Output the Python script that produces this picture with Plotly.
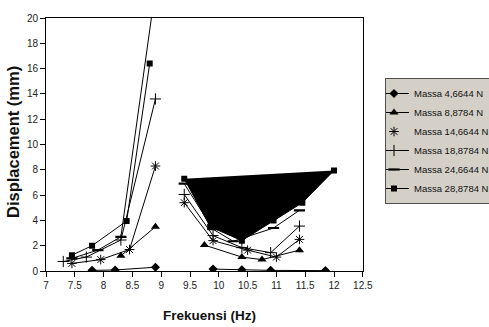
import plotly.graph_objects as go

# ---- data ----
series_names = ["Massa 4,6644 N", "Massa 8,8784 N", "Massa 14,6644 N",
                "Massa 18,8784 N", "Massa 24,6644 N", "Massa 28,8784 N"]

# low-frequency run
x_low_46 = [7.8, 8.2, 8.9]
y_low_46 = [0.05, 0.08, 0.3]
x_low_88 = [8.3, 8.9]
y_low_88 = [1.2, 3.5]
x_low_146 = [7.45, 7.95, 8.45, 8.9]
y_low_146 = [0.6, 0.9, 1.7, 8.3]
x_low_188 = [7.3, 7.7, 8.3, 8.9]
y_low_188 = [0.75, 1.1, 2.45, 13.6]
x_low_246 = [7.45, 7.9, 8.3, 8.9]
y_low_246 = [1.0, 1.65, 2.7, 22.3]
x_low_288 = [7.45, 7.8, 8.4, 8.8]
y_low_288 = [1.25, 2.0, 3.95, 16.4]

# high-frequency run
x_high_46 = [9.9, 10.4, 10.9, 11.85]
y_high_46 = [0.15, 0.1, 0.05, 0.03]
x_high_88 = [9.75, 10.4, 10.75, 11.4]
y_high_88 = [2.05, 1.1, 0.9, 1.65]
x_high_146 = [9.4, 9.9, 10.5, 11.0, 11.4]
y_high_146 = [5.4, 2.4, 1.65, 1.1, 2.5]
x_high_188 = [9.4, 9.9, 10.4, 10.9, 11.4]
y_high_188 = [6.05, 2.8, 1.85, 1.45, 3.55]
x_high_246 = [9.4, 9.9, 10.25, 10.95, 11.4]
y_high_246 = [6.9, 3.3, 2.35, 3.4, 4.8]
x_high_288 = [9.4, 9.85, 10.4, 10.95, 11.45, 12.0]
y_high_288 = [7.3, 3.5, 2.4, 4.0, 5.4, 7.95]

x_ticks = [7, 7.5, 8, 8.5, 9, 9.5, 10, 10.5, 11, 11.5, 12, 12.5]
y_ticks = [0, 2, 4, 6, 8, 10, 12, 14, 16, 18, 20]

FONT = "Liberation Sans, Arial"

def join(a, b):
    return a + [None] + b

styles = [
    dict(symbol="diamond", size=7, color="black"),
    dict(symbol="triangle-up", size=8, color="black"),
    dict(symbol="asterisk-open", size=8, color="black", line=dict(width=1, color="black")),
    dict(symbol="cross-thin-open", size=8, color="black", line=dict(width=1, color="black")),
    dict(symbol="line-ew-open", size=8, color="black", line=dict(width=2.2, color="black")),
    dict(symbol="square", size=6, color="black"),
]

fig = go.Figure()

pairs = [
    (x_low_46, y_low_46, x_high_46, y_high_46),
    (x_low_88, y_low_88, x_high_88, y_high_88),
    (x_low_146, y_low_146, x_high_146, y_high_146),
    (x_low_188, y_low_188, x_high_188, y_high_188),
    (x_low_246, y_low_246, x_high_246, y_high_246),
]

for i, (xl, yl, xh, yh) in enumerate(pairs):
    show = i != 2
    fig.add_trace(go.Scatter(
        x=join(xl, xh), y=join(yl, yh), mode="lines+markers",
        name=series_names[i], legendgroup=series_names[i], showlegend=show,
        line=dict(color="black", width=1), marker=styles[i],
        connectgaps=False, cliponaxis=True,
    ))
    if not show:
        fig.add_trace(go.Scatter(
            x=[None], y=[None], mode="markers", name=series_names[i],
            legendgroup=series_names[i], marker=styles[i],
        ))

# heaviest load: low run as a line, high run as a filled shape
fig.add_trace(go.Scatter(
    x=x_low_288, y=y_low_288, mode="lines+markers", name=series_names[5],
    legendgroup=series_names[5], line=dict(color="black", width=1), marker=styles[5],
))
fig.add_trace(go.Scatter(
    x=x_high_288, y=y_high_288, mode="lines+markers", name=series_names[5],
    legendgroup=series_names[5], showlegend=False, fill="toself",
    fillcolor="black", line=dict(color="black", width=1), marker=styles[5],
))

axis_common = dict(
    showline=True, linecolor="black", linewidth=1, mirror=True,
    showgrid=False, zeroline=False, ticks="outside", ticklen=5,
    tickcolor="black", tickwidth=1,
    tickfont=dict(family=FONT, size=10, color="#222"),
)

fig.update_xaxes(range=[7, 12.5], tickvals=x_ticks,
                 ticktext=[f"{v:g}" for v in x_ticks], **axis_common)
fig.update_yaxes(range=[0, 20], tickvals=y_ticks,
                 ticktext=[str(v) for v in y_ticks], **axis_common)

fig.add_annotation(text="<b>Frekuensi (Hz)</b>", xref="paper", yref="paper",
                   x=0.515, y=-0.175, xanchor="center", yanchor="middle",
                   showarrow=False, font=dict(family=FONT, size=13.5, color="#111"))
fig.add_annotation(text="<b>Displacement (mm)</b>", xref="paper", yref="paper",
                   x=-0.104, y=0.51, xanchor="center", yanchor="middle",
                   textangle=-90, showarrow=False,
                   font=dict(family=FONT, size=16.5, color="#111"))

fig.update_layout(
    width=489, height=327, autosize=False,
    margin=dict(l=46, r=106, t=13, b=56, pad=0),
    paper_bgcolor="white", plot_bgcolor="white",
    showlegend=True,
    legend=dict(
        x=385 / 489, y=1 - 78 / 327, xref="container", yref="container",
        xanchor="left", yanchor="top",
        bgcolor="#d4d0c8", bordercolor="#505050", borderwidth=1,
        font=dict(family=FONT, size=9.5, color="#111"),
        itemwidth=30, tracegroupgap=0, indentation=-12,
    ),
)

fig.write_html("out.html")
